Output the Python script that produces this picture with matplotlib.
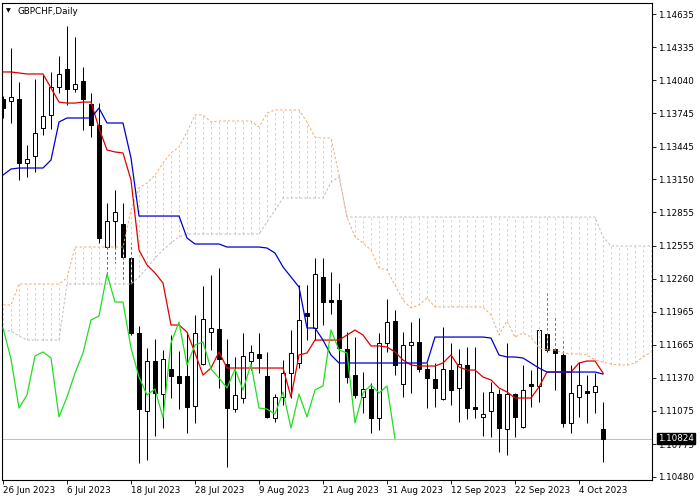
import matplotlib
matplotlib.use('Agg')
import matplotlib.pyplot as plt
import matplotlib.transforms as mtransforms
import numpy as np
import pandas as pd

symbol = 'GBPCHF,Daily'
first_day = '2023-06-26'

# daily candles, 26 Jun 2023 .. 9 Oct 2023
opens = [1.13872, 1.13854, 1.13872, 1.13298, 1.13361, 1.13612, 1.13729, 1.13980, 1.14141, 1.13962,
         1.14034, 1.13827, 1.13639, 1.12544, 1.12777, 1.12750, 1.12445, 1.11772, 1.11072, 1.11521,
         1.11225, 1.11449, 1.11386, 1.11386, 1.11117, 1.11494, 1.11781, 1.11808, 1.11494, 1.11090,
         1.11189, 1.11521, 1.11584, 1.11386, 1.11010, 1.11198, 1.11413, 1.11503, 1.11952, 1.11817,
         1.12275, 1.12068, 1.12068, 1.11629, 1.11395, 1.11198, 1.11270, 1.11010, 1.11683, 1.11880,
         1.11315, 1.11665, 1.11692, 1.11449, 1.11359, 1.11180, 1.11440, 1.11279, 1.11485, 1.11108,
         1.11019, 1.11072, 1.11225, 1.10911, 1.11225, 1.10929, 1.11315, 1.11297, 1.11763, 1.11629,
         1.11575, 1.10965, 1.11198, 1.11252, 1.11243, 1.10911]
highs = [1.13899, 1.14330, 1.14025, 1.13459, 1.14052, 1.14088, 1.14115, 1.14258, 1.14527, 1.14429,
         1.14159, 1.13926, 1.13836, 1.12939, 1.13056, 1.12939, 1.12580, 1.11835, 1.11638, 1.11718,
         1.11620, 1.11754, 1.11611, 1.11781, 1.11934, 1.12194, 1.12293, 1.12356, 1.11718, 1.11557,
         1.11772, 1.11665, 1.11772, 1.11602, 1.11225, 1.11530, 1.11799, 1.12203, 1.12203, 1.12445,
         1.12445, 1.12320, 1.12221, 1.11781, 1.11736, 1.11422, 1.11324, 1.11772, 1.12077, 1.11979,
         1.11781, 1.11871, 1.11907, 1.11503, 1.11503, 1.11826, 1.11683, 1.11629, 1.11647, 1.11647,
         1.11243, 1.11333, 1.11270, 1.11683, 1.11234, 1.11485, 1.11440, 1.11817, 1.12131, 1.11925,
         1.11727, 1.11485, 1.11512, 1.11395, 1.11413, 1.11153]
lows = [1.13702, 1.13657, 1.13145, 1.13172, 1.13217, 1.13549, 1.13603, 1.13926, 1.13818, 1.13935,
        1.13594, 1.13531, 1.12580, 1.12311, 1.12401, 1.12248, 1.11754, 1.10606, 1.10633, 1.10848,
        1.10920, 1.11189, 1.11090, 1.10875, 1.10965, 1.11485, 1.11620, 1.11279, 1.10570, 1.11063,
        1.11144, 1.11440, 1.11413, 1.11010, 1.10974, 1.11126, 1.11189, 1.11458, 1.11709, 1.11709,
        1.11844, 1.11943, 1.11153, 1.11324, 1.11189, 1.11054, 1.10875, 1.10902, 1.11602, 1.11395,
        1.11198, 1.11234, 1.11422, 1.11099, 1.11108, 1.11171, 1.11126, 1.10974, 1.11000, 1.11010,
        1.10848, 1.10839, 1.10704, 1.10677, 1.10839, 1.10920, 1.11108, 1.11153, 1.11602, 1.11261,
        1.10929, 1.10875, 1.11019, 1.10965, 1.11054, 1.10615]
closes = [1.13791, 1.13890, 1.13298, 1.13334, 1.13567, 1.13720, 1.13980, 1.14097, 1.13962, 1.14007,
          1.13872, 1.13639, 1.12625, 1.12777, 1.12858, 1.12454, 1.11772, 1.11090, 1.11521, 1.11234,
          1.11539, 1.11386, 1.11324, 1.11108, 1.11772, 1.11898, 1.11817, 1.11539, 1.11099, 1.11216,
          1.11566, 1.11602, 1.11548, 1.11019, 1.11198, 1.11413, 1.11593, 1.11889, 1.11925, 1.12302,
          1.12050, 1.12050, 1.11638, 1.11377, 1.11216, 1.11270, 1.11010, 1.11683, 1.11871, 1.11485,
          1.11665, 1.11692, 1.11449, 1.11368, 1.11279, 1.11449, 1.11261, 1.11494, 1.11099, 1.11090,
          1.11045, 1.11243, 1.10920, 1.11225, 1.11019, 1.11261, 1.11297, 1.11799, 1.11620, 1.11593,
          1.10965, 1.11234, 1.11306, 1.11234, 1.11297, 1.10824]

# Ichimoku lines
tenkan = [1.14115, 1.14115, 1.14106, 1.14097, 1.14097, 1.14097, 1.13971, 1.13845, 1.13836, 1.13836,
          1.13845, 1.13845, 1.13612, 1.13415, 1.13397, 1.13388, 1.13145, 1.12517, 1.12383, 1.12311,
          1.12221, 1.11844, 1.11844, 1.11781, 1.11593, 1.11395, 1.11458, 1.11602, 1.11458, 1.11458,
          1.11458, 1.11458, 1.11458, 1.11458, 1.11458, 1.11458, 1.11198, 1.11575, 1.11593, 1.11709,
          1.11709, 1.11709, 1.11709, 1.11754, 1.11799, 1.11754, 1.11656, 1.11656, 1.11647, 1.11602,
          1.11530, 1.11485, 1.11476, 1.11476, 1.11476, 1.11503, 1.11575, 1.11467, 1.11440, 1.11440,
          1.11377, 1.11351, 1.11279, 1.11243, 1.11189, 1.11189, 1.11189, 1.11288, 1.11422, 1.11422,
          1.11422, 1.11422, 1.11503, 1.11521, 1.11521, 1.11413]
kijun = [1.13190, 1.13244, 1.13253, 1.13253, 1.13253, 1.13253, 1.13325, 1.13666, 1.13702, 1.13702,
         1.13702, 1.13702, 1.13791, 1.13657, 1.13657, 1.13657, 1.13343, 1.12822, 1.12822, 1.12822,
         1.12822, 1.12822, 1.12822, 1.12625, 1.12571, 1.12571, 1.12571, 1.12571, 1.12544, 1.12544,
         1.12544, 1.12544, 1.12544, 1.12535, 1.12490, 1.12365, 1.12275, 1.12185, 1.11817, 1.11817,
         1.11709, 1.11575, 1.11503, 1.11503, 1.11503, 1.11503, 1.11503, 1.11503, 1.11503, 1.11503,
         1.11503, 1.11503, 1.11503, 1.11503, 1.11736, 1.11736, 1.11736, 1.11736, 1.11736, 1.11736,
         1.11736, 1.11727, 1.11575, 1.11557, 1.11557, 1.11548, 1.11503, 1.11458, 1.11422, 1.11422,
         1.11422, 1.11422, 1.11422, 1.11422, 1.11422, 1.11404]
# cloud, already shifted 26 bars forward (82 positions)
span_a = [1.12024, 1.12024, 1.12212, 1.12212, 1.12212, 1.12212, 1.12212, 1.12212, 1.12266, 1.12544,
          1.12544, 1.12544, 1.12544, 1.12544, 1.12544, 1.12544, 1.12876, 1.13074, 1.13118, 1.13190,
          1.13298, 1.13388, 1.13441, 1.13576, 1.13729, 1.13729, 1.13666, 1.13675, 1.13675, 1.13675,
          1.13675, 1.13675, 1.13621, 1.13747, 1.13774, 1.13774, 1.13774, 1.13774, 1.13666, 1.13531,
          1.13522, 1.13522, 1.13190, 1.12813, 1.12634, 1.12580, 1.12517, 1.12356, 1.12338, 1.12203,
          1.12068, 1.11997, 1.12024, 1.12086, 1.12006, 1.12006, 1.12006, 1.12006, 1.12006, 1.12006,
          1.12006, 1.11934, 1.11754, 1.11880, 1.11736, 1.11772, 1.11736, 1.11638, 1.11620, 1.11620,
          1.11593, 1.11584, 1.11584, 1.11575, 1.11530, 1.11512, 1.11494, 1.11485, 1.11485, 1.11503,
          1.11557, 1.11602]
span_b = [1.11799, 1.11790, 1.11745, 1.11709, 1.11709, 1.11709, 1.11709, 1.11709, 1.12212, 1.12212,
          1.12212, 1.12212, 1.12212, 1.12212, 1.12212, 1.12212, 1.12212, 1.12275, 1.12356, 1.12445,
          1.12517, 1.12580, 1.12634, 1.12661, 1.12661, 1.12661, 1.12661, 1.12661, 1.12661, 1.12661,
          1.12661, 1.12661, 1.12661, 1.12768, 1.12876, 1.12984, 1.12984, 1.12984, 1.12984, 1.12984,
          1.12984, 1.13127, 1.13172, 1.12813, 1.12813, 1.12813, 1.12813, 1.12813, 1.12813, 1.12813,
          1.12813, 1.12813, 1.12813, 1.12813, 1.12813, 1.12813, 1.12813, 1.12813, 1.12813, 1.12813,
          1.12813, 1.12813, 1.12813, 1.12813, 1.12813, 1.12813, 1.12813, 1.12813, 1.12813, 1.12813,
          1.12813, 1.12813, 1.12813, 1.12813, 1.12813, 1.12634, 1.12553, 1.12553, 1.12553, 1.12553,
          1.12553, 1.12553]

price_ticks = [1.14635, 1.14335, 1.14040, 1.13745, 1.13445, 1.13150, 1.12855, 1.12555,
               1.12260, 1.11965, 1.11665, 1.11370, 1.11075, 1.10775, 1.10480]

SANDY = '#F4A460'
THISTLE = '#CDB5CD'
FS = 6.3
PX = 0.72  # one pixel in points at 100 dpi

fig = plt.figure(figsize=(7, 5), dpi=100)
ax = fig.add_axes([2 / 700, 20 / 500, 650 / 700, 477 / 500])

n = len(closes)
x = np.arange(n)
o = np.array(opens)
c = np.array(closes)

# bid line
ax.axhline(closes[-1], color='#C0C0C0', lw=PX, zorder=1)

# candles
ax.vlines(x, lows, highs, color='black', lw=PX, zorder=2)
up = c >= o
body_lo = np.minimum(o, c)
body_h = np.abs(c - o)
ax.bar(x, body_h, 0.55, bottom=body_lo, color=np.where(up, 'white', 'black'),
       edgecolor='black', linewidth=PX, zorder=3)

# cloud hatch, one dotted vertical per bar
cx = np.arange(len(span_a))
sa = np.array(span_a)
sb = np.array(span_b)
hatch_cols = [(0.957, 0.643, 0.376, 0.6) if a >= b else (0.80, 0.72, 0.80, 0.65) for a, b in zip(sa, sb)]
ax.vlines(cx, np.minimum(sa, sb), np.maximum(sa, sb), colors=hatch_cols,
          linestyles=(0, (2.5, 2.5)), lw=PX, gapcolor='white', zorder=4)
ax.plot(cx, sa, color=SANDY, ls=(0, (2.5, 2)), lw=PX, alpha=0.9, zorder=5)
ax.plot(cx, sb, color=THISTLE, ls=(0, (2.5, 2)), lw=PX, zorder=5)

# tenkan / kijun / chikou
ax.plot(x, tenkan, color='#E00000', lw=0.9, zorder=6)
ax.plot(x, kijun, color='#0000CC', lw=0.9, zorder=6)
ax.plot(x[:n - 26], closes[26:], color='#22DD22', lw=0.9, zorder=6)

ax.set_xlim(-0.125, 81.125)
ax.set_ylim(1.10453, 1.14734)

# axes decoration in the terminal style
dates = pd.bdate_range(first_day, periods=n)
date_pos = list(range(0, n, 8))
date_labels = [f'{dates[i].day} {dates[i]:%b %Y}' for i in date_pos]
ax.set_xticks(date_pos, date_labels, ha='left')
ax.yaxis.tick_right()
ax.set_yticks(price_ticks, [f'{p:.5f}' for p in price_ticks])
ax.tick_params(axis='y', direction='out', length=3, width=0.6, pad=1.5, labelsize=FS)
ax.tick_params(axis='x', direction='out', length=3, width=0.6, pad=1, labelsize=FS)
for sp in ax.spines.values():
    sp.set_linewidth(0.8)
    sp.set_color('black')

# current price tag (sits over the 1.10775 label, as in the terminal)
trans = mtransforms.blended_transform_factory(ax.transAxes, ax.transData)
ax.text(1 + 6 / 650, closes[-1], f'{closes[-1]:.5f}', transform=trans, color='white',
        fontsize=FS, va='center', ha='left', clip_on=False, zorder=10,
        bbox=dict(boxstyle='square,pad=0.15', fc='black', ec='black'))

# symbol caption
fig.text(6 / 700, 1 - 11 / 500, '\u25BC', fontsize=4.5, va='center', ha='left')
fig.text(18 / 700, 1 - 11 / 500, symbol, fontsize=FS, va='center', ha='left')

fig.savefig('out.png', dpi=100, facecolor='white')
